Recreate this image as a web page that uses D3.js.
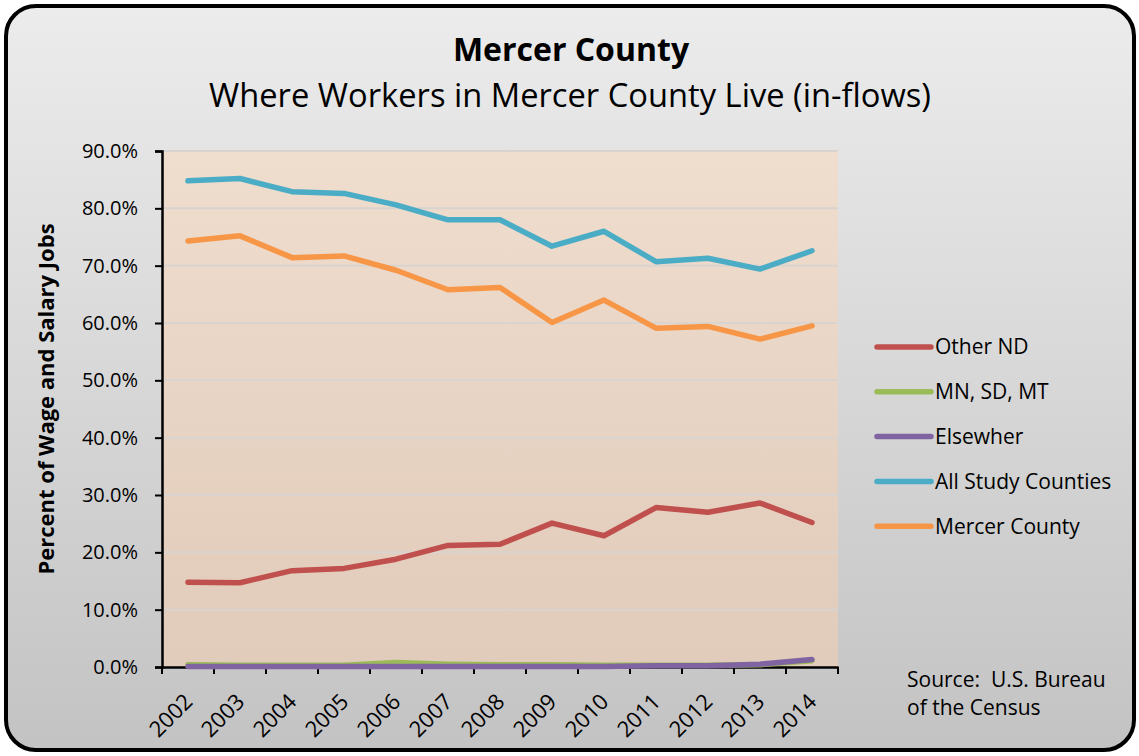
<!DOCTYPE html>
<html>
<head>
<meta charset="utf-8">
<script src="https://cdn.jsdelivr.net/npm/d3@7"></script>
<style>
  body { margin: 0; background: #fff; }
  text { font-family: "Open Sans", sans-serif; fill: #000; }
</style>
</head>
<body>
<div class="chart"></div>
<script>
var years = ["2002", "2003", "2004", "2005", "2006", "2007", "2008", "2009", "2010", "2011", "2012", "2013", "2014"];
var otherND = [14.8, 14.7, 16.8, 17.2, 18.8, 21.2, 21.4, 25.1, 22.9, 27.8, 27.0, 28.6, 25.2];
var mnSdMt = [0.4, 0.3, 0.3, 0.3, 0.8, 0.5, 0.4, 0.4, 0.3, 0.3, 0.3, 0.4, 1.1];
var elsewhere = [0.1, 0.1, 0.1, 0.1, 0.1, 0.1, 0.1, 0.1, 0.1, 0.2, 0.2, 0.5, 1.3];
var allStudy = [84.8, 85.2, 82.9, 82.6, 80.6, 78.0, 78.0, 73.4, 76.0, 70.7, 71.3, 69.4, 72.6];
var mercer = [74.3, 75.2, 71.4, 71.7, 69.2, 65.8, 66.2, 60.1, 64.0, 59.1, 59.4, 57.2, 59.5];
var yTicks = [0, 10, 20, 30, 40, 50, 60, 70, 80, 90];

var series = [
    { name: "Other ND", values: otherND, color: "#c0504d" },
    { name: "MN, SD, MT", values: mnSdMt, color: "#9bbb59" },
    { name: "Elsewher", values: elsewhere, color: "#8064a2" },
    { name: "All Study Counties", values: allStudy, color: "#4bacc6" },
    { name: "Mercer County", values: mercer, color: "#f79646" }
];

var W = 1139, H = 756;
var margin = { top: 151, left: 162 },
    width = 676, height = 516;

var svg = d3.select(".chart").append("svg")
    .attr("width", W)
    .attr("height", H);

var defs = svg.append("defs");
var bg = defs.append("linearGradient").attr("id", "bg").attr("x1", 0).attr("y1", 0).attr("x2", 0).attr("y2", 1);
bg.append("stop").attr("offset", "0%").attr("stop-color", "#ececec");
bg.append("stop").attr("offset", "100%").attr("stop-color", "#c3c3c3");
var pg = defs.append("linearGradient").attr("id", "pg").attr("x1", 0).attr("y1", 0).attr("x2", 0).attr("y2", 1);
pg.append("stop").attr("offset", "0%").attr("stop-color", "#efddce");
pg.append("stop").attr("offset", "100%").attr("stop-color", "#e1cbba");

// outer frame
svg.append("rect")
    .attr("x", 6).attr("y", 6)
    .attr("width", 1128).attr("height", 744)
    .attr("rx", 30).attr("ry", 30)
    .attr("fill", "url(#bg)")
    .attr("stroke", "#000")
    .attr("stroke-width", 4);

// titles
svg.append("text")
    .attr("x", 571).attr("y", 61)
    .attr("text-anchor", "middle")
    .style("font-size", "32px").style("font-weight", "bold")
    .text("Mercer County");
svg.append("text")
    .attr("x", 570).attr("y", 107)
    .attr("text-anchor", "middle")
    .style("font-size", "32.7px")
    .text("Where Workers in Mercer County Live (in-flows)");

var x = d3.scaleBand().domain(years).range([0, width]);
var y = d3.scaleLinear().domain([0, 90]).range([height, 0]);

var g = svg.append("g")
    .attr("transform", "translate(" + margin.left + "," + margin.top + ")");

g.append("rect")
    .attr("width", width).attr("height", height)
    .attr("fill", "url(#pg)");

// grid
g.selectAll(".grid")
    .data(yTicks.filter(function (d) { return d > 0; }))
    .enter().append("line")
    .attr("class", "grid")
    .attr("x1", 0).attr("x2", width)
    .attr("y1", function (d) { return y(d); })
    .attr("y2", function (d) { return y(d); })
    .attr("stroke", "#d9d4cf")
    .attr("stroke-width", 2);

// y axis
var yAxis = g.append("g")
    .call(d3.axisLeft(y).tickValues(yTicks).tickSize(7).tickPadding(17)
        .tickFormat(function (d) { return d.toFixed(1) + "%"; }));
yAxis.select(".domain").attr("stroke-width", 2.5);
yAxis.selectAll(".tick line").attr("stroke-width", 2);
yAxis.selectAll("text").style("font-size", "20px").attr("fill", "#000");

// x axis
var xAxis = g.append("g")
    .attr("transform", "translate(0," + height + ")")
    .call(d3.axisBottom(x).tickSize(0).tickFormat(""));
xAxis.select(".domain").attr("stroke-width", 2.5);
xAxis.selectAll(".tick").remove();
xAxis.selectAll(".xt")
    .data(years.concat(["end"]))
    .enter().append("line")
    .attr("x1", function (d, i) { return i * x.step(); })
    .attr("x2", function (d, i) { return i * x.step(); })
    .attr("y1", 0).attr("y2", 7)
    .attr("stroke", "#000").attr("stroke-width", 2);
xAxis.selectAll(".xl")
    .data(years)
    .enter().append("text")
    .attr("class", "xl")
    .attr("text-anchor", "end")
    .attr("transform", function (d) {
        return "translate(" + (x(d) + x.bandwidth() / 2 + 6) + ",36) rotate(-45)";
    })
    .style("font-size", "22px")
    .text(function (d) { return d; });

// lines
var line = d3.line()
    .x(function (d, i) { return x(years[i]) + x.bandwidth() / 2; })
    .y(function (d) { return y(d); });

g.selectAll(".series")
    .data(series)
    .enter().append("path")
    .attr("class", "series")
    .attr("fill", "none")
    .attr("stroke", function (d) { return d.color; })
    .attr("stroke-width", 5.5)
    .attr("stroke-linecap", "round")
    .attr("stroke-linejoin", "round")
    .attr("d", function (d) { return line(d.values); });

// y axis title
svg.append("text")
    .attr("transform", "translate(54,399) rotate(-90)")
    .attr("text-anchor", "middle")
    .style("font-size", "22px").style("font-weight", "bold")
    .text("Percent of Wage and Salary Jobs");

// legend
var legend = svg.selectAll(".legend")
    .data(series)
    .enter().append("g")
    .attr("class", "legend")
    .attr("transform", function (d, i) { return "translate(877," + (347 + i * 44.8) + ")"; });
legend.append("line")
    .attr("x1", 0).attr("x2", 54)
    .attr("stroke", function (d) { return d.color; })
    .attr("stroke-width", 5.5)
    .attr("stroke-linecap", "round");
legend.append("text")
    .attr("x", 58).attr("dy", "0.35em")
    .style("font-size", "21px")
    .text(function (d) { return d.name; });

// source note
svg.append("text")
    .attr("x", 907).attr("y", 687)
    .style("font-size", "21px").style("white-space", "pre")
    .text("Source:  U.S. Bureau");
svg.append("text")
    .attr("x", 907).attr("y", 715)
    .style("font-size", "21px")
    .text("of the Census");
</script>
</body>
</html>
